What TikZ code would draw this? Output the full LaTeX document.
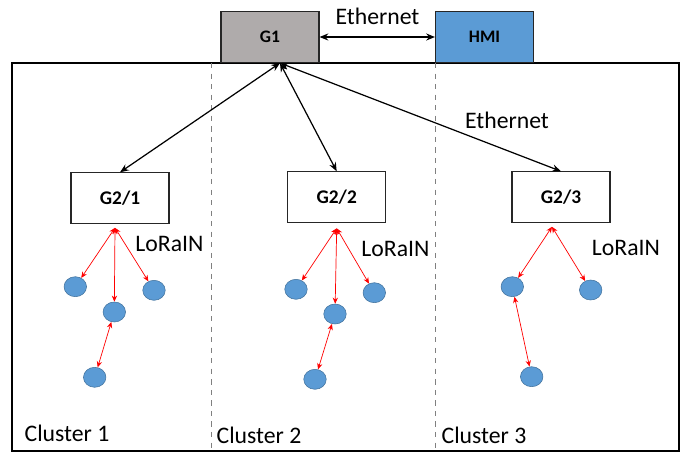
\documentclass[tikz,border=0pt]{standalone}
\usepackage{fontspec}
\setmainfont{Carlito}
\usetikzlibrary{arrows.meta}
\usetikzlibrary{shapes.geometric}

\definecolor{nodeblue}{HTML}{5B9BD5}
\definecolor{nodeedge}{HTML}{41719C}
\definecolor{gwgray}{HTML}{AFABAB}

\begin{document}
\begin{tikzpicture}[x=0.02cm, y=-0.02cm] % one unit is one pixel of the layout
    \tikzstyle{gw}=[draw=black!85, line width=0.6pt, minimum width=1.96cm, minimum height=1.02cm, inner sep=0pt, font=\bfseries\fontsize{11}{13}\selectfont]
    \tikzstyle{sensor}=[ellipse, fill=nodeblue, draw=nodeedge, line width=0.3pt, minimum width=0.45cm, minimum height=0.4cm, inner sep=0pt]
    \tikzstyle{lbl}=[inner sep=0pt, font=\fontsize{13.5}{16}\selectfont]
    \tikzstyle{eth}=[{Stealth[length=5pt,width=4pt]}-{Stealth[length=5pt,width=4pt]}, line width=0.7pt]
    \tikzstyle{lora}=[{Stealth[length=3.5pt,width=3pt]}-{Stealth[length=3.5pt,width=3pt]}, red, line width=0.4pt]
    \useasboundingbox (0,0) rectangle (681,454);

    % outer frame and cluster borders
    \draw[line width=1.2pt] (12,63) rectangle (679,451);
    \foreach \x in {211,435} {
        \draw[dashed, gray, line width=0.4pt] (\x,63) -- (\x,451);
    }

    % gateways
    \node[gw, fill=gwgray, font=\bfseries\fontsize{10}{12}\selectfont] (g1) at (270,37) {G1};
    \node[gw, fill=nodeblue, font=\bfseries\fontsize{10}{12}\selectfont] (hmi) at (484.5,37) {HMI};
    \node[gw, fill=white] (g21) at (120,198.3) {G2/1};
    \node[gw, fill=white] (g22) at (336.7,197.3) {G2/2};
    \node[gw, fill=white] (g23) at (561,197.3) {G2/3};

    % end devices
    \foreach \n/\x/\y in {c11/75.3/286.7, c12/114.3/312, c13/154/290.3, c14/94.7/377.3,
                          c21/296/289.3, c22/335/314, c23/374.3/292.7, c24/315/379.3,
                          c31/512.3/286.7, c32/590.7/290, c33/531.7/376.7} {
        \node[sensor] (\n) at (\x,\y) {};
    }

    % labels
    \node[lbl] (eth1) at (377.5,16) {Ethernet};
    \node[lbl] (eth2) at (507,120) {Ethernet};
    \node[lbl] (lora1) at (169.5,244) {LoRaIN};
    \node[lbl] (lora2) at (395.5,249) {LoRaIN};
    \node[lbl] (lora3) at (626,248) {LoRaIN};
    \node[lbl] (cl1) at (67,433) {Cluster 1};
    \node[lbl] (cl2) at (259,435) {Cluster 2};
    \node[lbl] (cl3) at (484,435) {Cluster 3};

    % ethernet links
    \draw[eth] (g1) -- (hmi);
    \coordinate (g1b) at ([xshift=0.2cm]g1.south);
    \foreach \g in {g21,g22,g23} {
        \draw[eth] (g1b) -- (\g.north);
    }

    % LoRaIN links
    \coordinate (l1) at ([xshift=-0.1cm,yshift=-0.07cm]g21.south);
    \coordinate (l2) at ([yshift=-0.1cm]g22.south);
    \coordinate (l3) at ([xshift=-0.18cm,yshift=-0.07cm]g23.south);
    \foreach \c in {c11,c12,c13} {
        \draw[lora] (l1) -- (\c);
    }
    \foreach \c in {c21,c22,c23} {
        \draw[lora] (l2) -- (\c);
    }
    \foreach \c in {c31,c32} {
        \draw[lora] (l3) -- (\c);
    }
    \draw[lora] (c12) -- (c14);
    \draw[lora] (c22) -- (c24);
    \draw[lora] (c31) -- (c33);
\end{tikzpicture}
\end{document}
